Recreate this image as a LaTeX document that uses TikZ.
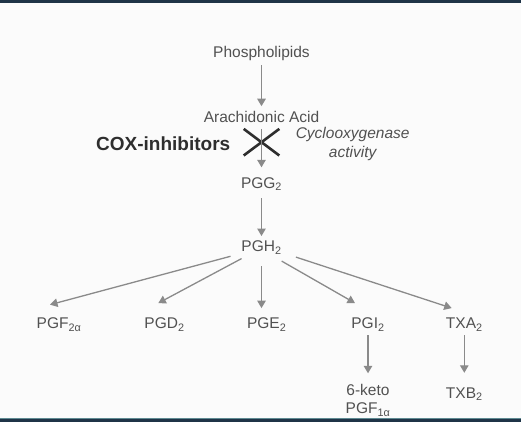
\documentclass[tikz,border=0pt]{standalone}
\usepackage{fontspec}
\setsansfont{Liberation Sans}
\usetikzlibrary{arrows.meta,positioning,shapes.misc}

\definecolor{txtgray}{HTML}{515151}
\definecolor{arrgray}{HTML}{8A8A8A}
\definecolor{crossblack}{HTML}{2E2E2E}
\definecolor{paper}{HTML}{FBFBFB}
\definecolor{darkbar}{HTML}{1F3447}
\definecolor{tealline}{HTML}{5E8A92}

\begin{document}
\begin{tikzpicture}[
    font=\sffamily\fontsize{15.5pt}{18.4pt}\selectfont,
    >={Triangle[length=7.5pt,width=8.5pt]},
    % styles
    chem/.style={text=txtgray, inner sep=2pt, text height=11pt, text depth=4pt},
    chemtwo/.style={text=txtgray, inner sep=2pt, align=center},
    link/.style={draw=arrgray, ->, line width=1.3pt},
    inhibit/.style={draw=crossblack, cross out, line width=2.6pt, minimum width=33pt, minimum height=24pt, inner sep=0pt}
]

    % --- background and frame bars ---
    \fill[paper] (0,0) rectangle (521pt,-422pt);
    \fill[darkbar] (0,0) rectangle (521pt,-3pt);
    \fill[tealline] (0,-418pt) rectangle (521pt,-419pt);
    \fill[darkbar] (0,-419pt) rectangle (521pt,-422pt);

    % --- 1. Nodes ---

    % main column
    \node[chem, anchor=base] (phos) at (261.5pt,-57.5pt) {Phospholipids};
    \node[chem, below=45.8pt of phos] (arach) {Arachidonic Acid};
    \node[chem, below=46pt of arach] (pgg) {PGG\textsubscript{2}};
    \node[chem, below=44.4pt of pgg] (pgh) {PGH\textsubscript{2}};

    % COX block
    \node[inhibit, below=0pt of arach] (block) {};
    \node[left=13.3pt of block, yshift=-1.5pt, inner sep=0pt, text=crossblack, font=\sffamily\bfseries\fontsize{19pt}{22pt}\selectfont] (cox) {COX-inhibitors};
    \node[right=16.3pt of block, yshift=-1.6pt, inner sep=0pt, text=txtgray, align=center, font=\sffamily\itshape\fontsize{15.5pt}{18.4pt}\selectfont] (cyclo) {Cyclooxygenase\\activity};

    % products of PGH2
    \node[chem, below=57.6pt of pgh, xshift=-202.5pt] (pgf) {PGF\textsubscript{2α}};
    \node[chem, below=57.6pt of pgh, xshift=-97pt] (pgd) {PGD\textsubscript{2}};
    \node[chem, below=57.6pt of pgh, xshift=5.2pt] (pge) {PGE\textsubscript{2}};
    \node[chem, below=57.6pt of pgh, xshift=106.5pt] (pgi) {PGI\textsubscript{2}};
    \node[chem, below=57.6pt of pgh, xshift=202.8pt] (txa) {TXA\textsubscript{2}};

    % metabolites
    \node[chemtwo, below=47pt of pgi] (keto) {6-keto\\PGF\textsubscript{1α}};
    \node[chem, below=49.7pt of txa] (txb) {TXB\textsubscript{2}};

    % --- 2. Paths ---

    \draw[link, shorten <=1.5pt, shorten >=3.3pt] (phos) -- (arach);
    \draw[link, shorten >=7.6pt] (arach) -- (pgg);
    \draw[link, shorten <=3.7pt, shorten >=2.7pt] (pgg) -- (pgh);

    % fan out of PGH2
    \draw[link, shorten <=9pt] (pgh.194.7) -- ([xshift=-9pt,yshift=11pt]pgf.north);
    \draw[link, shorten <=1pt] (pgh.207) -- ([xshift=-6.2pt,yshift=12.6pt]pgd.north);
    \draw[link, shorten <=8.3pt, shorten >=7.6pt] (pgh.south) -- (pgh.south |- pge.north);
    \draw[link, shorten <=6pt] (pgh.327.6) -- ([xshift=-13pt,yshift=12.6pt]pgi.north);
    \draw[link, shorten <=12.8pt] (pgh.348) -- ([xshift=-12.6pt,yshift=7.6pt]txa.north);

    % down to metabolites
    \draw[link, shorten >=8.8pt] (pgi) -- (keto);
    \draw[link, shorten >=12pt] (txa) -- (txb);

\end{tikzpicture}
\end{document}
